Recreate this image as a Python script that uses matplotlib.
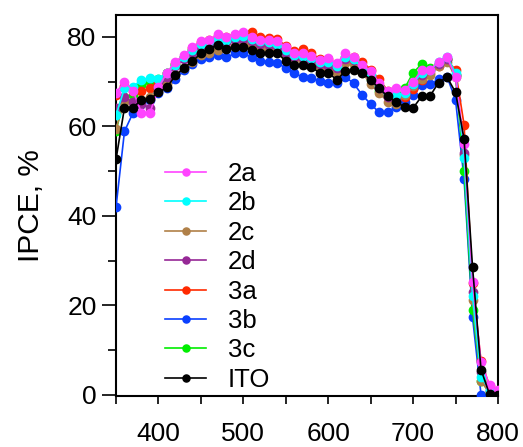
import matplotlib
matplotlib.use("Agg")
import matplotlib.pyplot as plt
from matplotlib.ticker import MultipleLocator

wavelength = list(range(350, 801, 10))

s_2a = [67.5, 70.0, 68.0, 63.0, 63.0, 68.7, 72.0, 74.5, 75.9, 77.8, 79.1, 79.4, 80.6, 79.9, 80.6, 81.0,
        80.0, 79.4, 79.3, 79.1, 77.7, 76.5, 76.3, 75.7, 74.8, 75.2, 74.1, 76.3, 75.6, 73.7, 72.3, 69.8,
        68.0, 68.5, 68.2, 70.0, 72.5, 72.7, 74.5, 75.4, 71.1, 56.0, 25.3, 7.3, 2.1, 1.0]
s_2b = [62.5, 68.5, 68.9, 70.4, 70.8, 70.6, 72.0, 73.8, 75.5, 77.1, 78.5, 79.0, 79.5, 79.2, 80.0, 80.2,
        79.5, 79.0, 78.8, 78.5, 77.0, 76.0, 75.8, 75.2, 74.5, 74.5, 73.5, 75.5, 75.0, 73.0, 71.5, 69.0,
        67.5, 67.0, 67.5, 69.5, 72.0, 72.5, 74.5, 75.5, 72.0, 53.0, 22.0, 4.0, 1.0, 0.3]
s_2c = [59.5, 65.5, 65.5, 66.0, 66.5, 68.0, 69.5, 71.5, 73.0, 74.5, 76.0, 76.5, 77.0, 77.5, 78.0, 78.5,
        78.0, 77.5, 77.2, 77.0, 75.5, 75.0, 74.5, 74.0, 73.0, 72.5, 72.0, 74.2, 74.0, 72.0, 69.5, 67.5,
        65.5, 65.0, 67.0, 69.0, 70.5, 71.5, 73.5, 74.5, 71.0, 53.5, 21.2, 3.0, 0.5, 0.2]
s_2d = [64.0, 66.5, 65.5, 65.0, 64.2, 68.5, 71.0, 73.5, 75.0, 76.5, 77.8, 78.3, 79.0, 78.8, 79.3, 79.5,
        79.0, 78.5, 78.3, 78.0, 76.5, 75.5, 75.2, 74.8, 74.0, 73.5, 73.0, 75.0, 74.8, 73.0, 71.0, 68.5,
        66.5, 66.0, 67.5, 69.5, 71.5, 72.5, 74.0, 75.0, 71.5, 54.0, 23.0, 5.0, 1.0, 0.5]
s_3a = [67.0, 69.0, 68.0, 67.8, 68.5, 70.0, 72.0, 74.0, 75.5, 77.5, 78.8, 79.3, 80.2, 80.0, 80.5, 80.6,
        81.0, 80.0, 79.8, 79.5, 78.0, 76.9, 77.2, 76.5, 75.0, 75.0, 74.0, 75.5, 75.5, 74.5, 72.7, 70.5,
        68.0, 67.0, 66.5, 68.3, 70.4, 72.0, 73.5, 75.0, 72.5, 60.4, 25.0, 7.5, 2.0, 0.5]
s_3b = [41.9, 58.9, 63.0, 65.0, 66.0, 67.5, 68.5, 70.5, 72.5, 74.0, 75.0, 75.4, 75.9, 75.4, 76.3, 76.3,
        75.4, 74.6, 74.5, 74.2, 73.0, 71.9, 71.0, 70.8, 70.2, 69.6, 69.6, 71.1, 69.6, 67.0, 65.0, 63.1,
        63.3, 64.3, 65.5, 67.0, 69.3, 69.4, 70.5, 71.1, 65.9, 48.3, 17.3, 0.0, 0.0, 0.0]
s_3c = [59.0, 66.5, 67.0, 69.3, 70.0, 70.5, 72.0, 74.0, 75.5, 77.0, 78.2, 78.8, 79.5, 79.0, 79.8, 80.0,
        79.5, 78.8, 78.5, 78.2, 76.8, 75.8, 75.5, 74.5, 74.0, 74.0, 73.0, 75.0, 74.5, 72.5, 70.5, 68.0,
        67.0, 66.5, 68.5, 72.0, 73.9, 73.0, 74.0, 75.0, 71.5, 50.0, 19.0, 3.0, 0.5, 0.2]
s_ito = [52.6, 64.2, 64.2, 65.9, 66.1, 67.6, 68.7, 71.4, 73.0, 74.6, 76.3, 77.3, 78.3, 77.2, 77.8, 77.8,
         77.1, 76.5, 76.3, 76.3, 74.7, 73.7, 73.7, 73.3, 71.9, 72.0, 70.4, 72.3, 72.6, 72.0, 70.4, 68.5,
         66.7, 65.5, 64.3, 64.1, 66.7, 66.8, 69.8, 71.0, 67.6, 57.2, 28.5, 5.6, 0.1, 0.0]

labels = ["2a", "2b", "2c", "2d", "3a", "3b", "3c", "ITO"]
series = [s_2a, s_2b, s_2c, s_2d, s_3a, s_3b, s_3c, s_ito]
colors = ["#FF44FF", "#00FFFF", "#B08048", "#962896", "#FF2A00", "#0A40FF", "#00EE00", "#000000"]
zorders = [9, 8, 6, 7, 5, 3, 4, 10]

plt.rcParams['font.family'] = ['Liberation Sans', 'DejaVu Sans']

fig = plt.figure(figsize=(5.23, 4.47), dpi=100)
ax = fig.add_axes([116/523, 1-396/447, (498-116)/523, (396-15)/447])

for lab, ys, c, z in zip(labels, series, colors, zorders):
    ax.plot(wavelength, ys, color=c, marker='o', markersize=6, linewidth=1.2,
            label=lab, zorder=z)

ax.set_xlim(350, 800)
ax.set_ylim(-0.3, 84.9)
ax.xaxis.set_major_locator(MultipleLocator(100))
ax.xaxis.set_minor_locator(MultipleLocator(50))
ax.yaxis.set_major_locator(MultipleLocator(20))
ax.yaxis.set_minor_locator(MultipleLocator(10))
ax.set_xticks([400, 500, 600, 700, 800])

for sp in ax.spines.values():
    sp.set_linewidth(1.5)
ax.tick_params(axis='both', which='both', direction='out', width=1.2, labelsize=19)
ax.tick_params(axis='y', which='major', length=10, pad=4)
ax.tick_params(axis='y', which='minor', length=5.5)
ax.tick_params(axis='x', which='major', length=6, pad=13)
ax.tick_params(axis='x', which='minor', length=5.5)

ax.set_ylabel("IPCE, %", fontsize=21.5, labelpad=16)

handles, labs = ax.get_legend_handles_labels()
leg = ax.legend(handles, labs, loc='upper left', bbox_to_anchor=(165/523, 1-162/447),
                bbox_transform=fig.transFigure, frameon=False, fontsize=18.5,
                handlelength=1.6, handletextpad=0.85, labelspacing=0.21,
                borderpad=0, borderaxespad=0, markerscale=0.85)

fig.savefig("out.png", dpi=100)
